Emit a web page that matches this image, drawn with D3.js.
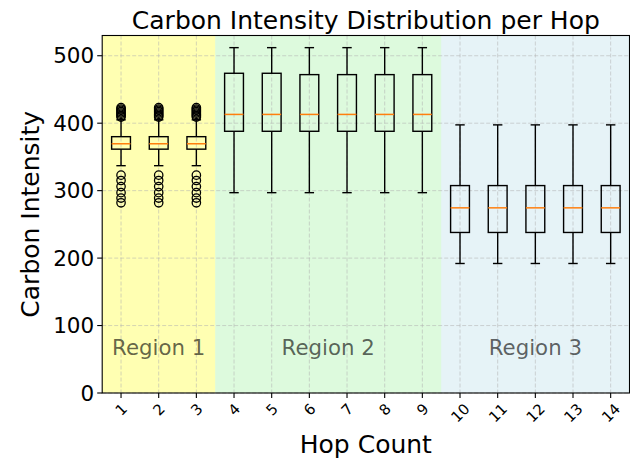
<!DOCTYPE html>
<html>
<head>
<meta charset="utf-8">
<script src="https://cdn.jsdelivr.net/npm/d3@7"></script>
<style>
  html, body { margin: 0; padding: 0; background: #fff; }
  svg { display: block; font-family: "DejaVu Sans", sans-serif; }
</style>
</head>
<body>
<svg id="chart" width="630" height="459"></svg>
<script>
// ---- data ----
const hops = [1, 2, 3, 4, 5, 6, 7, 8, 9, 10, 11, 12, 13, 14];
const whiskerLow  = [337, 337, 337, 297, 297, 297, 297, 297, 297, 192, 192, 192, 192, 192];
const q1          = [361.5, 361.5, 361.5, 388, 388, 388, 388, 388, 388, 238, 238, 238, 238, 238];
const median      = [369.5, 369.5, 369.5, 413, 413, 413, 413, 413, 413, 274.5, 274.5, 274.5, 274.5, 274.5];
const q3          = [380, 380, 380, 474, 474, 472, 472, 472, 472, 307.5, 307.5, 307.5, 307.5, 307.5];
const whiskerHigh = [405, 405, 405, 512, 512, 512, 512, 512, 512, 397.5, 397.5, 397.5, 397.5, 397.5];
const region1Outliers = [282, 289, 297, 306, 315, 323, 409, 411, 413, 415, 417, 419, 421, 423];
const outliers = [region1Outliers, region1Outliers, region1Outliers, [], [], [], [], [], [], [], [], [], [], []];
const yTicks = [0, 100, 200, 300, 400, 500];
const regionNames = ["Region 1", "Region 2", "Region 3"];
const regionStart = [0.5, 3.5, 9.5];
const regionEnd   = [3.5, 9.5, 14.5];
const regionColors = ["yellow", "lightgreen", "lightblue"];

// ---- layout ----
const svg = d3.select("#chart");
const L = 102.2, R = 629.5, T = 35.5, B = 393;
const x = d3.scaleLinear().domain([0.5, 14.5]).range([L, R]);
const y = d3.scaleLinear().domain([0, 530]).range([B, T]);
const boxW = x(1.25) - x(1);   // half-width of box (0.25 units)
const capW = x(1.125) - x(1);

// region backgrounds
svg.append("g").selectAll("rect").data(regionNames).join("rect")
  .attr("x", (d, i) => x(regionStart[i]))
  .attr("width", (d, i) => x(regionEnd[i]) - x(regionStart[i]))
  .attr("y", T).attr("height", B - T)
  .attr("fill", (d, i) => regionColors[i]).attr("fill-opacity", 0.3);

// grid
const grid = svg.append("g").attr("stroke", "#b0b0b0").attr("stroke-opacity", 0.6)
  .attr("stroke-width", 0.9).attr("stroke-dasharray", "4,2");
grid.selectAll(".gx").data(hops).join("line")
  .attr("x1", d => x(d)).attr("x2", d => x(d)).attr("y1", T).attr("y2", B);
grid.selectAll(".gy").data(yTicks).join("line")
  .attr("x1", L).attr("x2", R).attr("y1", d => y(d)).attr("y2", d => y(d));

// region labels
svg.append("g").selectAll("text").data(regionNames).join("text")
  .attr("x", (d, i) => x((regionStart[i] + regionEnd[i]) / 2))
  .attr("y", y(57))
  .attr("text-anchor", "middle")
  .attr("font-size", 21.3)
  .attr("fill", "#000").attr("fill-opacity", 0.62)
  .text(d => d);

// boxplots
const g = svg.append("g").attr("fill", "none");
hops.forEach((h, i) => {
  const cx = x(h);
  const bg = g.append("g");
  // whiskers
  bg.append("line").attr("x1", cx).attr("x2", cx).attr("y1", y(q1[i])).attr("y2", y(whiskerLow[i]))
    .attr("stroke", "#000").attr("stroke-width", 1.4);
  bg.append("line").attr("x1", cx).attr("x2", cx).attr("y1", y(q3[i])).attr("y2", y(whiskerHigh[i]))
    .attr("stroke", "#000").attr("stroke-width", 1.4);
  // caps
  [whiskerLow[i], whiskerHigh[i]].forEach(v => {
    bg.append("line").attr("x1", cx - capW).attr("x2", cx + capW).attr("y1", y(v)).attr("y2", y(v))
      .attr("stroke", "#000").attr("stroke-width", 1.4);
  });
  // box
  bg.append("rect").attr("x", cx - boxW).attr("width", 2 * boxW)
    .attr("y", y(q3[i])).attr("height", y(q1[i]) - y(q3[i]))
    .attr("stroke", "#000").attr("stroke-width", 1.4);
  // median
  bg.append("line").attr("x1", cx - boxW).attr("x2", cx + boxW).attr("y1", y(median[i])).attr("y2", y(median[i]))
    .attr("stroke", "#ff7f0e").attr("stroke-width", 1.5);
  // fliers
  bg.selectAll("circle").data(outliers[i]).join("circle")
    .attr("cx", cx).attr("cy", d => y(d)).attr("r", 4.2)
    .attr("stroke", "#000").attr("stroke-width", 1.3);
});

// spines
svg.append("rect").attr("x", L).attr("y", T).attr("width", R - L).attr("height", B - T)
  .attr("fill", "none").attr("stroke", "#000").attr("stroke-width", 1.1);

// y axis ticks
const yAxis = svg.append("g");
yAxis.selectAll("line").data(yTicks).join("line")
  .attr("x1", L - 5).attr("x2", L).attr("y1", d => y(d)).attr("y2", d => y(d))
  .attr("stroke", "#000").attr("stroke-width", 1.1);
yAxis.selectAll("text").data(yTicks).join("text")
  .attr("x", L - 8).attr("y", d => y(d)).attr("dy", "0.36em")
  .attr("text-anchor", "end").attr("font-size", 21.5).attr("fill", "#000")
  .text(d => d);

// x axis ticks
const xAxis = svg.append("g");
const xfs = 14.8;
xAxis.selectAll("text").data(hops).join("text")
  .attr("text-anchor", "middle").attr("dominant-baseline", "central")
  .attr("font-size", xfs).attr("fill", "#000")
  .text(d => d)
  .each(function(d) {
    const w = this.getComputedTextLength();
    const h = xfs * 0.75;
    const cy = B + 9 + (w + h) / (2 * Math.SQRT2);
    d3.select(this).attr("x", x(d)).attr("y", cy)
      .attr("transform", `rotate(-45, ${x(d)}, ${cy})`);
  });
xAxis.selectAll("line").data(hops).join("line")
  .attr("x1", d => x(d)).attr("x2", d => x(d)).attr("y1", B).attr("y2", B + 5)
  .attr("stroke", "#000").attr("stroke-width", 1.1);

// titles
svg.append("text").attr("x", (L + R) / 2).attr("y", 28.5).attr("text-anchor", "middle")
  .attr("font-size", 25).attr("fill", "#000").text("Carbon Intensity Distribution per Hop");
svg.append("text").attr("x", (L + R) / 2).attr("y", 453).attr("text-anchor", "middle")
  .attr("font-size", 25).attr("fill", "#000").text("Hop Count");
svg.append("text").attr("transform", `translate(39, ${(T + B) / 2}) rotate(-90)`)
  .attr("text-anchor", "middle").attr("font-size", 25).attr("fill", "#000").text("Carbon Intensity");
</script>
</body>
</html>
